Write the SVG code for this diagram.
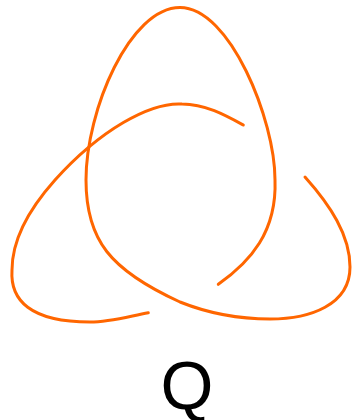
<svg xmlns="http://www.w3.org/2000/svg" width="352" height="420" viewBox="0 0 352 420">
<style>
.k{fill:none;stroke:#ff6600;stroke-width:3;stroke-linecap:round;stroke-linejoin:round}
.t{font-family:"Liberation Sans",Arial,sans-serif;font-size:68px;fill:#000;text-anchor:middle}
</style>
<rect width="352" height="420" fill="#fff"/>
<g id="knot">
<path id="strandB" class="k" d="M218.3,284.3 C250,262 277,232 275,180 C275,120 230,7.5 180,7.5 C130,7.5 86,110 86,180 C86,240 110,270 180,302 C210,314 240,319 270,319 C310,319 350,305 350,267 C350,235 330,205 305,177"/>
<path id="strandA" class="k" d="M243.3,125 C225,115 205,104 182,104 C150,102 100,130 55,180 C30,208 12,240 12,270 C10,300 30,322 90,322 C110,322 130,316 148.3,312.7"/>
</g>
<g id="label"><text class="t" x="187" y="409">Q</text></g>
</svg>
